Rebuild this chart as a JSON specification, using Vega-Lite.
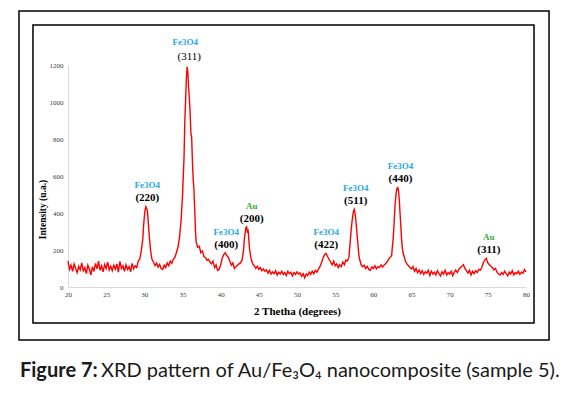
{
  "$schema": "https://vega.github.io/schema/vega-lite/v6.json",
  "width": 458,
  "height": 222,
  "autosize": {"type": "none"},
  "padding": {"left": 68, "top": 65, "right": 41, "bottom": 108},
  "background": "white",
  "config": {
    "view": {"stroke": null},
    "axisX": {
      "labelOverlap": false, "labelFlush": false, "ticks": false, "grid": false,
      "domainColor": "#d9d9d9", "domainWidth": 1,
      "labelFont": "Liberation Serif", "labelFontSize": 7, "labelColor": "#404040", "labelPadding": 3,
      "titleFont": "Liberation Serif", "titleFontSize": 11, "titleFontWeight": "bold", "titleColor": "black",
      "titleY": 24, "titleBaseline": "middle"
    },
    "axisY": {
      "labelOverlap": false, "labelFlush": false, "ticks": false, "grid": false,
      "domainColor": "#d9d9d9", "domainWidth": 1,
      "labelFont": "Liberation Serif", "labelFontSize": 7, "labelColor": "#404040", "labelPadding": 5,
      "titleFont": "Liberation Serif", "titleFontSize": 9.5, "titleFontWeight": "bold", "titleColor": "black",
      "titleX": -26, "titleY": 144, "titleAngle": -90, "titleAlign": "center", "titleBaseline": "middle"
    }
  },
  "datasets": {
    "xrd": [
      {"two_theta":20.0,"intensity":140},{"two_theta":20.2,"intensity":95},{"two_theta":20.4,"intensity":118},{"two_theta":20.6,"intensity":85},{"two_theta":20.8,"intensity":125},
      {"two_theta":21.0,"intensity":100},{"two_theta":21.2,"intensity":78},{"two_theta":21.4,"intensity":112},{"two_theta":21.6,"intensity":92},{"two_theta":21.8,"intensity":130},
      {"two_theta":22.0,"intensity":88},{"two_theta":22.2,"intensity":105},{"two_theta":22.4,"intensity":72},{"two_theta":22.6,"intensity":118},{"two_theta":22.8,"intensity":96},
      {"two_theta":23.0,"intensity":65},{"two_theta":23.2,"intensity":110},{"two_theta":23.4,"intensity":84},{"two_theta":23.6,"intensity":128},{"two_theta":23.8,"intensity":98},
      {"two_theta":24.0,"intensity":140},{"two_theta":24.2,"intensity":90},{"two_theta":24.4,"intensity":115},{"two_theta":24.6,"intensity":82},{"two_theta":24.8,"intensity":122},
      {"two_theta":25.0,"intensity":100},{"two_theta":25.2,"intensity":135},{"two_theta":25.4,"intensity":92},{"two_theta":25.6,"intensity":112},{"two_theta":25.8,"intensity":88},
      {"two_theta":26.0,"intensity":118},{"two_theta":26.2,"intensity":96},{"two_theta":26.4,"intensity":125},{"two_theta":26.6,"intensity":80},{"two_theta":26.8,"intensity":138},
      {"two_theta":27.0,"intensity":100},{"two_theta":27.2,"intensity":115},{"two_theta":27.4,"intensity":85},{"two_theta":27.6,"intensity":120},{"two_theta":27.8,"intensity":95},
      {"two_theta":28.0,"intensity":110},{"two_theta":28.2,"intensity":82},{"two_theta":28.4,"intensity":128},{"two_theta":28.6,"intensity":98},{"two_theta":28.8,"intensity":115},
      {"two_theta":29.0,"intensity":105},{"two_theta":29.2,"intensity":140},{"two_theta":29.4,"intensity":150},{"two_theta":29.6,"intensity":195},{"two_theta":29.8,"intensity":260},
      {"two_theta":29.9,"intensity":330},{"two_theta":30.0,"intensity":380},{"two_theta":30.1,"intensity":415},{"two_theta":30.2,"intensity":435},{"two_theta":30.3,"intensity":425},
      {"two_theta":30.4,"intensity":410},{"two_theta":30.5,"intensity":360},{"two_theta":30.6,"intensity":300},{"two_theta":30.7,"intensity":250},{"two_theta":30.8,"intensity":205},
      {"two_theta":30.9,"intensity":175},{"two_theta":31.0,"intensity":150},{"two_theta":31.2,"intensity":135},{"two_theta":31.4,"intensity":115},{"two_theta":31.6,"intensity":130},
      {"two_theta":31.8,"intensity":108},{"two_theta":32.0,"intensity":122},{"two_theta":32.2,"intensity":100},{"two_theta":32.4,"intensity":95},{"two_theta":32.6,"intensity":118},
      {"two_theta":32.8,"intensity":105},{"two_theta":33.0,"intensity":130},{"two_theta":33.2,"intensity":115},{"two_theta":33.4,"intensity":140},{"two_theta":33.6,"intensity":128},
      {"two_theta":33.8,"intensity":150},{"two_theta":34.0,"intensity":160},{"two_theta":34.2,"intensity":185},{"two_theta":34.4,"intensity":215},{"two_theta":34.6,"intensity":265},
      {"two_theta":34.8,"intensity":350},{"two_theta":35.0,"intensity":490},{"two_theta":35.2,"intensity":700},{"two_theta":35.3,"intensity":890},{"two_theta":35.4,"intensity":1000},
      {"two_theta":35.5,"intensity":1120},{"two_theta":35.6,"intensity":1190},{"two_theta":35.7,"intensity":1160},{"two_theta":35.8,"intensity":1080},{"two_theta":35.9,"intensity":1020},
      {"two_theta":36.0,"intensity":940},{"two_theta":36.1,"intensity":830},{"two_theta":36.2,"intensity":810},{"two_theta":36.3,"intensity":680},{"two_theta":36.4,"intensity":580},
      {"two_theta":36.5,"intensity":530},{"two_theta":36.6,"intensity":420},{"two_theta":36.7,"intensity":300},{"two_theta":36.8,"intensity":240},{"two_theta":36.9,"intensity":230},
      {"two_theta":37.0,"intensity":215},{"two_theta":37.2,"intensity":220},{"two_theta":37.4,"intensity":185},{"two_theta":37.6,"intensity":195},{"two_theta":37.8,"intensity":165},
      {"two_theta":38.0,"intensity":160},{"two_theta":38.2,"intensity":145},{"two_theta":38.4,"intensity":150},{"two_theta":38.6,"intensity":135},{"two_theta":38.8,"intensity":125},
      {"two_theta":39.0,"intensity":140},{"two_theta":39.2,"intensity":105},{"two_theta":39.4,"intensity":120},{"two_theta":39.6,"intensity":90},{"two_theta":39.8,"intensity":95},
      {"two_theta":40.0,"intensity":120},{"two_theta":40.2,"intensity":155},{"two_theta":40.4,"intensity":175},{"two_theta":40.6,"intensity":185},{"two_theta":40.8,"intensity":170},
      {"two_theta":41.0,"intensity":160},{"two_theta":41.2,"intensity":140},{"two_theta":41.4,"intensity":118},{"two_theta":41.6,"intensity":130},{"two_theta":41.8,"intensity":100},
      {"two_theta":42.0,"intensity":110},{"two_theta":42.2,"intensity":118},{"two_theta":42.4,"intensity":125},{"two_theta":42.6,"intensity":130},{"two_theta":42.8,"intensity":145},
      {"two_theta":43.0,"intensity":200},{"two_theta":43.1,"intensity":260},{"two_theta":43.2,"intensity":290},{"two_theta":43.3,"intensity":320},{"two_theta":43.4,"intensity":325},
      {"two_theta":43.5,"intensity":300},{"two_theta":43.6,"intensity":305},{"two_theta":43.7,"intensity":250},{"two_theta":43.8,"intensity":200},{"two_theta":43.9,"intensity":175},
      {"two_theta":44.0,"intensity":150},{"two_theta":44.2,"intensity":125},{"two_theta":44.4,"intensity":115},{"two_theta":44.6,"intensity":100},{"two_theta":44.8,"intensity":112},
      {"two_theta":45.0,"intensity":95},{"two_theta":45.2,"intensity":105},{"two_theta":45.4,"intensity":88},{"two_theta":45.6,"intensity":98},{"two_theta":45.8,"intensity":85},
      {"two_theta":46.0,"intensity":92},{"two_theta":46.2,"intensity":75},{"two_theta":46.4,"intensity":90},{"two_theta":46.6,"intensity":70},{"two_theta":46.8,"intensity":82},
      {"two_theta":47.0,"intensity":72},{"two_theta":47.2,"intensity":88},{"two_theta":47.4,"intensity":65},{"two_theta":47.6,"intensity":80},{"two_theta":47.8,"intensity":70},
      {"two_theta":48.0,"intensity":85},{"two_theta":48.2,"intensity":68},{"two_theta":48.4,"intensity":78},{"two_theta":48.6,"intensity":62},{"two_theta":48.8,"intensity":85},
      {"two_theta":49.0,"intensity":72},{"two_theta":49.2,"intensity":80},{"two_theta":49.4,"intensity":60},{"two_theta":49.6,"intensity":78},{"two_theta":49.8,"intensity":68},
      {"two_theta":50.0,"intensity":82},{"two_theta":50.2,"intensity":70},{"two_theta":50.4,"intensity":76},{"two_theta":50.6,"intensity":58},{"two_theta":50.8,"intensity":72},
      {"two_theta":51.0,"intensity":50},{"two_theta":51.2,"intensity":70},{"two_theta":51.4,"intensity":62},{"two_theta":51.6,"intensity":80},{"two_theta":51.8,"intensity":68},
      {"two_theta":52.0,"intensity":85},{"two_theta":52.2,"intensity":72},{"two_theta":52.4,"intensity":90},{"two_theta":52.6,"intensity":80},{"two_theta":52.8,"intensity":95},
      {"two_theta":53.0,"intensity":110},{"two_theta":53.2,"intensity":130},{"two_theta":53.4,"intensity":155},{"two_theta":53.6,"intensity":175},{"two_theta":53.8,"intensity":182},
      {"two_theta":54.0,"intensity":165},{"two_theta":54.2,"intensity":150},{"two_theta":54.4,"intensity":135},{"two_theta":54.6,"intensity":120},{"two_theta":54.8,"intensity":140},
      {"two_theta":55.0,"intensity":115},{"two_theta":55.2,"intensity":125},{"two_theta":55.4,"intensity":105},{"two_theta":55.6,"intensity":120},{"two_theta":55.8,"intensity":110},
      {"two_theta":56.0,"intensity":135},{"two_theta":56.2,"intensity":120},{"two_theta":56.4,"intensity":145},{"two_theta":56.6,"intensity":140},{"two_theta":56.8,"intensity":160},
      {"two_theta":57.0,"intensity":260},{"two_theta":57.1,"intensity":310},{"two_theta":57.2,"intensity":350},{"two_theta":57.3,"intensity":385},{"two_theta":57.4,"intensity":410},
      {"two_theta":57.5,"intensity":420},{"two_theta":57.6,"intensity":400},{"two_theta":57.7,"intensity":365},{"two_theta":57.8,"intensity":320},{"two_theta":57.9,"intensity":270},
      {"two_theta":58.0,"intensity":220},{"two_theta":58.1,"intensity":175},{"two_theta":58.2,"intensity":150},{"two_theta":58.4,"intensity":120},{"two_theta":58.6,"intensity":110},
      {"two_theta":58.8,"intensity":118},{"two_theta":59.0,"intensity":100},{"two_theta":59.2,"intensity":112},{"two_theta":59.4,"intensity":95},{"two_theta":59.6,"intensity":90},
      {"two_theta":59.8,"intensity":108},{"two_theta":60.0,"intensity":100},{"two_theta":60.2,"intensity":115},{"two_theta":60.4,"intensity":98},{"two_theta":60.6,"intensity":110},
      {"two_theta":60.8,"intensity":105},{"two_theta":61.0,"intensity":120},{"two_theta":61.2,"intensity":108},{"two_theta":61.4,"intensity":118},{"two_theta":61.6,"intensity":125},
      {"two_theta":61.8,"intensity":135},{"two_theta":62.0,"intensity":150},{"two_theta":62.2,"intensity":160},{"two_theta":62.4,"intensity":170},{"two_theta":62.5,"intensity":220},
      {"two_theta":62.6,"intensity":260},{"two_theta":62.7,"intensity":330},{"two_theta":62.8,"intensity":410},{"two_theta":62.9,"intensity":470},{"two_theta":63.0,"intensity":510},
      {"two_theta":63.1,"intensity":535},{"two_theta":63.2,"intensity":538},{"two_theta":63.3,"intensity":520},{"two_theta":63.4,"intensity":470},{"two_theta":63.5,"intensity":400},
      {"two_theta":63.6,"intensity":330},{"two_theta":63.7,"intensity":260},{"two_theta":63.8,"intensity":210},{"two_theta":63.9,"intensity":185},{"two_theta":64.0,"intensity":170},
      {"two_theta":64.2,"intensity":140},{"two_theta":64.4,"intensity":125},{"two_theta":64.6,"intensity":115},{"two_theta":64.8,"intensity":105},{"two_theta":65.0,"intensity":98},
      {"two_theta":65.2,"intensity":110},{"two_theta":65.4,"intensity":85},{"two_theta":65.6,"intensity":100},{"two_theta":65.8,"intensity":78},{"two_theta":66.0,"intensity":92},
      {"two_theta":66.2,"intensity":72},{"two_theta":66.4,"intensity":88},{"two_theta":66.6,"intensity":68},{"two_theta":66.8,"intensity":82},{"two_theta":67.0,"intensity":75},
      {"two_theta":67.2,"intensity":90},{"two_theta":67.4,"intensity":62},{"two_theta":67.6,"intensity":85},{"two_theta":67.8,"intensity":70},{"two_theta":68.0,"intensity":80},
      {"two_theta":68.2,"intensity":65},{"two_theta":68.4,"intensity":88},{"two_theta":68.6,"intensity":72},{"two_theta":68.8,"intensity":60},{"two_theta":69.0,"intensity":82},
      {"two_theta":69.2,"intensity":70},{"two_theta":69.4,"intensity":90},{"two_theta":69.6,"intensity":65},{"two_theta":69.8,"intensity":78},{"two_theta":70.0,"intensity":70},
      {"two_theta":70.2,"intensity":85},{"two_theta":70.4,"intensity":62},{"two_theta":70.6,"intensity":80},{"two_theta":70.8,"intensity":92},{"two_theta":71.0,"intensity":78},
      {"two_theta":71.2,"intensity":95},{"two_theta":71.4,"intensity":105},{"two_theta":71.6,"intensity":112},{"two_theta":71.8,"intensity":120},{"two_theta":72.0,"intensity":100},
      {"two_theta":72.2,"intensity":88},{"two_theta":72.4,"intensity":75},{"two_theta":72.6,"intensity":90},{"two_theta":72.8,"intensity":65},{"two_theta":73.0,"intensity":85},
      {"two_theta":73.2,"intensity":72},{"two_theta":73.4,"intensity":88},{"two_theta":73.6,"intensity":78},{"two_theta":73.8,"intensity":95},{"two_theta":74.0,"intensity":90},
      {"two_theta":74.2,"intensity":105},{"two_theta":74.4,"intensity":130},{"two_theta":74.6,"intensity":145},{"two_theta":74.8,"intensity":155},{"two_theta":75.0,"intensity":130},
      {"two_theta":75.2,"intensity":120},{"two_theta":75.4,"intensity":112},{"two_theta":75.6,"intensity":105},{"two_theta":75.8,"intensity":92},{"two_theta":76.0,"intensity":100},
      {"two_theta":76.2,"intensity":80},{"two_theta":76.4,"intensity":70},{"two_theta":76.6,"intensity":65},{"two_theta":76.8,"intensity":78},{"two_theta":77.0,"intensity":68},
      {"two_theta":77.2,"intensity":85},{"two_theta":77.4,"intensity":72},{"two_theta":77.6,"intensity":60},{"two_theta":77.8,"intensity":80},{"two_theta":78.0,"intensity":70},
      {"two_theta":78.2,"intensity":88},{"two_theta":78.4,"intensity":65},{"two_theta":78.6,"intensity":78},{"two_theta":78.8,"intensity":72},{"two_theta":79.0,"intensity":85},
      {"two_theta":79.2,"intensity":68},{"two_theta":79.4,"intensity":80},{"two_theta":79.6,"intensity":75},{"two_theta":79.8,"intensity":95},{"two_theta":80.0,"intensity":82}
    ],
    "peaks": [
      {"phase":"Fe3O4","hkl":"(220)","two_theta":30.39,"intensity":437,"main":false},
      {"phase":"Fe3O4","hkl":"(311)","two_theta":35.63,"intensity":1191,"main":true},
      {"phase":"Fe3O4","hkl":"(400)","two_theta":40.72,"intensity":184,"main":false},
      {"phase":"Au","hkl":"(200)","two_theta":44.06,"intensity":326,"main":false},
      {"phase":"Fe3O4","hkl":"(422)","two_theta":53.82,"intensity":182,"main":false},
      {"phase":"Fe3O4","hkl":"(511)","two_theta":57.69,"intensity":420,"main":false},
      {"phase":"Fe3O4","hkl":"(440)","two_theta":63.55,"intensity":539,"main":false},
      {"phase":"Au","hkl":"(311)","two_theta":75.13,"intensity":155,"main":false}
    ]
  },
  "layer": [
    {
      "data": {"name": "xrd"},
      "mark": {"type": "line", "color": "#ff0000", "strokeWidth": 1.4},
      "encoding": {
        "x": {"field": "two_theta", "type": "quantitative", "title": "2 Thetha (degrees)", "scale": {"domain": [20, 80], "nice": false, "zero": false}, "axis": {"values": [20, 25, 30, 35, 40, 45, 50, 55, 60, 65, 70, 75, 80], "format": "d"}},
        "y": {"field": "intensity", "type": "quantitative", "title": "Intensity (u.a.)", "scale": {"domain": [0, 1200], "nice": false, "zero": false}, "axis": {"values": [0, 200, 400, 600, 800, 1000, 1200], "format": "d"}}
      }
    },
    {
      "data": {"values": [{}]},
      "mark": {"type": "rect", "fill": "transparent", "stroke": "black", "strokeWidth": 1.5},
      "encoding": {
        "x": {"datum": 13.58, "type": "quantitative", "title": "2 Thetha (degrees)", "scale": {"domain": [20, 80], "nice": false, "zero": false}, "axis": {"values": [20, 25, 30, 35, 40, 45, 50, 55, 60, 65, 70, 75, 80], "format": "d"}},
        "x2": {"datum": 83.02},
        "y": {"datum": 1492, "type": "quantitative", "title": "Intensity (u.a.)", "scale": {"domain": [0, 1200], "nice": false, "zero": false}, "axis": {"values": [0, 200, 400, 600, 800, 1000, 1200], "format": "d"}},
        "y2": {"datum": -286.5}
      }
    },
    {
      "data": {"values": [{}]},
      "mark": {"type": "rect", "fill": "transparent", "stroke": "black", "strokeWidth": 1.5},
      "encoding": {
        "x": {"datum": 15.41, "type": "quantitative", "title": "2 Thetha (degrees)", "scale": {"domain": [20, 80], "nice": false, "zero": false}, "axis": {"values": [20, 25, 30, 35, 40, 45, 50, 55, 60, 65, 70, 75, 80], "format": "d"}},
        "x2": {"datum": 81.05},
        "y": {"datum": 1416, "type": "quantitative", "title": "Intensity (u.a.)", "scale": {"domain": [0, 1200], "nice": false, "zero": false}, "axis": {"values": [0, 200, 400, 600, 800, 1000, 1200], "format": "d"}},
        "y2": {"datum": -194.6}
      }
    },
    {
      "data": {"name": "peaks"},
      "transform": [{"filter": "!datum.main"}],
      "mark": {"type": "text", "font": "Liberation Serif", "fontSize": 9, "fontWeight": "bold", "dy": -21, "baseline": "middle"},
      "encoding": {
        "x": {"field": "two_theta", "type": "quantitative", "title": "2 Thetha (degrees)", "scale": {"domain": [20, 80], "nice": false, "zero": false}, "axis": {"values": [20, 25, 30, 35, 40, 45, 50, 55, 60, 65, 70, 75, 80], "format": "d"}},
        "y": {"field": "intensity", "type": "quantitative", "title": "Intensity (u.a.)", "scale": {"domain": [0, 1200], "nice": false, "zero": false}, "axis": {"values": [0, 200, 400, 600, 800, 1000, 1200], "format": "d"}},
        "text": {"field": "phase"},
        "color": {"field": "phase", "type": "nominal", "scale": {"domain": ["Fe3O4", "Au"], "range": ["#29a8e0", "#3aaa35"]}, "legend": null}
      }
    },
    {
      "data": {"name": "peaks"},
      "transform": [{"filter": "!datum.main"}],
      "mark": {"type": "text", "font": "Liberation Serif", "fontSize": 11, "fontWeight": "bold", "dy": -8, "baseline": "middle", "color": "black"},
      "encoding": {
        "x": {"field": "two_theta", "type": "quantitative", "title": "2 Thetha (degrees)", "scale": {"domain": [20, 80], "nice": false, "zero": false}, "axis": {"values": [20, 25, 30, 35, 40, 45, 50, 55, 60, 65, 70, 75, 80], "format": "d"}},
        "y": {"field": "intensity", "type": "quantitative", "title": "Intensity (u.a.)", "scale": {"domain": [0, 1200], "nice": false, "zero": false}, "axis": {"values": [0, 200, 400, 600, 800, 1000, 1200], "format": "d"}},
        "text": {"field": "hkl"}
      }
    },
    {
      "data": {"name": "peaks"},
      "transform": [{"filter": "datum.main"}],
      "mark": {"type": "text", "font": "Liberation Serif", "fontSize": 9, "fontWeight": "bold", "dy": -25, "dx": -2, "baseline": "middle"},
      "encoding": {
        "x": {"field": "two_theta", "type": "quantitative", "title": "2 Thetha (degrees)", "scale": {"domain": [20, 80], "nice": false, "zero": false}, "axis": {"values": [20, 25, 30, 35, 40, 45, 50, 55, 60, 65, 70, 75, 80], "format": "d"}},
        "y": {"field": "intensity", "type": "quantitative", "title": "Intensity (u.a.)", "scale": {"domain": [0, 1200], "nice": false, "zero": false}, "axis": {"values": [0, 200, 400, 600, 800, 1000, 1200], "format": "d"}},
        "text": {"field": "phase"},
        "color": {"field": "phase", "type": "nominal", "scale": {"domain": ["Fe3O4", "Au"], "range": ["#29a8e0", "#3aaa35"]}, "legend": null}
      }
    },
    {
      "data": {"name": "peaks"},
      "transform": [{"filter": "datum.main"}],
      "mark": {"type": "text", "font": "Liberation Serif", "fontSize": 11, "fontWeight": "normal", "dy": -10, "dx": 2, "baseline": "middle", "color": "black"},
      "encoding": {
        "x": {"field": "two_theta", "type": "quantitative", "title": "2 Thetha (degrees)", "scale": {"domain": [20, 80], "nice": false, "zero": false}, "axis": {"values": [20, 25, 30, 35, 40, 45, 50, 55, 60, 65, 70, 75, 80], "format": "d"}},
        "y": {"field": "intensity", "type": "quantitative", "title": "Intensity (u.a.)", "scale": {"domain": [0, 1200], "nice": false, "zero": false}, "axis": {"values": [0, 200, 400, 600, 800, 1000, 1200], "format": "d"}},
        "text": {"field": "hkl"}
      }
    },
    {
      "data": {"values": [{}]},
      "mark": {"type": "text", "font": "Lato", "fontSize": 20, "fontWeight": "bold", "align": "left", "baseline": "middle", "color": "#1a1a1a"},
      "encoding": {
        "x": {"datum": 13.71, "type": "quantitative", "title": "2 Thetha (degrees)", "scale": {"domain": [20, 80], "nice": false, "zero": false}, "axis": {"values": [20, 25, 30, 35, 40, 45, 50, 55, 60, 65, 70, 75, 80], "format": "d"}},
        "y": {"datum": -454, "type": "quantitative", "title": "Intensity (u.a.)", "scale": {"domain": [0, 1200], "nice": false, "zero": false}, "axis": {"values": [0, 200, 400, 600, 800, 1000, 1200], "format": "d"}},
        "text": {"value": "Figure 7:"}
      }
    },
    {
      "data": {"values": [{}]},
      "mark": {"type": "text", "font": "Lato", "fontSize": 20, "fontWeight": "normal", "align": "left", "baseline": "middle", "color": "#1a1a1a"},
      "encoding": {
        "x": {"datum": 24.32, "type": "quantitative", "title": "2 Thetha (degrees)", "scale": {"domain": [20, 80], "nice": false, "zero": false}, "axis": {"values": [20, 25, 30, 35, 40, 45, 50, 55, 60, 65, 70, 75, 80], "format": "d"}},
        "y": {"datum": -454, "type": "quantitative", "title": "Intensity (u.a.)", "scale": {"domain": [0, 1200], "nice": false, "zero": false}, "axis": {"values": [0, 200, 400, 600, 800, 1000, 1200], "format": "d"}},
        "text": {"value": "XRD pattern of Au/Fe₃O₄ nanocomposite (sample 5)."}
      }
    }
  ]
}
